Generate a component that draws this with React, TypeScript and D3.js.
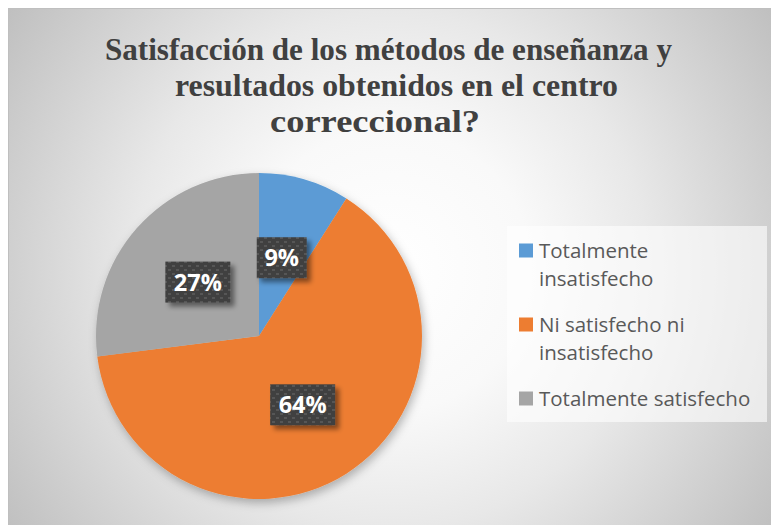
import React, { useEffect, useRef } from 'react';
import * as d3 from 'd3';

const categories = ['Totalmente insatisfecho', 'Ni satisfecho ni insatisfecho', 'Totalmente satisfecho'];
const legendLines = [['Totalmente', 'insatisfecho'], ['Ni satisfecho ni', 'insatisfecho'], ['Totalmente satisfecho']];
const values = [9, 64, 27];
const colors = ['#5B9BD5', '#ED7D31', '#A5A5A5'];
const titleLines = ['Satisfacción de los métodos de enseñanza y', 'resultados obtenidos en el centro', 'correccional?'];

const App: React.FC = () => {
  const svgRef = useRef<SVGSVGElement | null>(null);

  useEffect(() => {
    const width = 771;
    const height = 525;
    const cx = 259;
    const cy = 336;
    const radius = 163;

    const svg = d3.select(svgRef.current)
      .attr('width', width)
      .attr('height', height);

    svg.selectAll('*').remove();

    const defs = svg.append('defs');

    const grad = defs.append('radialGradient')
      .attr('id', 'bg')
      .attr('gradientUnits', 'userSpaceOnUse')
      .attr('cx', 390).attr('cy', 270).attr('r', 470);
    grad.append('stop').attr('offset', 0).attr('stop-color', '#ffffff');
    grad.append('stop').attr('offset', 0.3).attr('stop-color', '#f9f9f9');
    grad.append('stop').attr('offset', 0.55).attr('stop-color', '#e8e8e8');
    grad.append('stop').attr('offset', 1).attr('stop-color', '#bebebe');

    // dotted pattern for the data label boxes
    const pat = defs.append('pattern')
      .attr('id', 'dots')
      .attr('patternUnits', 'userSpaceOnUse')
      .attr('width', 8).attr('height', 8);
    pat.append('rect').attr('width', 8).attr('height', 8).attr('fill', '#3f3f3f');
    pat.append('rect').attr('x', 1).attr('y', 1).attr('width', 3).attr('height', 2).attr('fill', '#565656');
    pat.append('rect').attr('x', 5).attr('y', 5).attr('width', 3).attr('height', 2).attr('fill', '#565656');

    const pieShadow = defs.append('filter').attr('id', 'pieShadow')
      .attr('x', '-20%').attr('y', '-20%').attr('width', '140%').attr('height', '140%');
    pieShadow.append('feDropShadow')
      .attr('dx', 2).attr('dy', 4).attr('stdDeviation', 5)
      .attr('flood-color', '#000').attr('flood-opacity', 0.28);

    const boxShadow = defs.append('filter').attr('id', 'boxShadow')
      .attr('x', '-30%').attr('y', '-30%').attr('width', '160%').attr('height', '160%');
    boxShadow.append('feDropShadow')
      .attr('dx', 4).attr('dy', 4).attr('stdDeviation', 2.5)
      .attr('flood-color', '#000').attr('flood-opacity', 0.45);

    // chart area
    svg.append('rect')
      .attr('x', 8.5).attr('y', 8.5)
      .attr('width', 800).attr('height', 560)
      .attr('fill', 'url(#bg)')
      .attr('stroke', '#bfbfbf');

    // title
    const titleX = [388.5, 396.5, 375];
    const titleW = [567, 443, 210];
    const titleY = [60, 96, 132];
    titleLines.forEach((t, i) => {
      svg.append('text')
        .attr('x', titleX[i]).attr('y', titleY[i])
        .attr('text-anchor', 'middle')
        .attr('font-family', '"Liberation Serif", "Times New Roman", serif')
        .attr('font-weight', 'bold')
        .attr('font-size', 32)
        .attr('fill', '#404040')
        .attr('textLength', titleW[i])
        .attr('lengthAdjust', 'spacingAndGlyphs')
        .text(t);
    });

    // pie
    const pie = d3.pie<number>().sort(null).value(d => d);
    const arcs = pie(values);
    const arc = d3.arc<d3.PieArcDatum<number>>().innerRadius(0).outerRadius(radius);

    const g = svg.append('g').attr('transform', `translate(${cx},${cy})`);
    g.append('g').attr('filter', 'url(#pieShadow)')
      .selectAll('path')
      .data(arcs)
      .join('path')
      .attr('d', arc)
      .attr('fill', (d, i) => colors[i]);

    // data labels
    const total = d3.sum(values);
    arcs.forEach((d, i) => {
      const [lx, ly] = arc.centroid(d);
      const w = values[i] < 10 ? 50 : 65;
      const h = 41;
      g.append('rect')
        .attr('x', lx - w / 2).attr('y', ly - h / 2)
        .attr('width', w).attr('height', h)
        .attr('fill', 'url(#dots)')
        .attr('filter', 'url(#boxShadow)');
      g.append('text')
        .attr('x', lx).attr('y', ly + 8.5)
        .attr('text-anchor', 'middle')
        .attr('font-family', '"Open Sans", "Noto Sans", sans-serif')
        .attr('font-weight', 'bold')
        .attr('font-size', 23.5)
        .attr('fill', '#ffffff')
        .text(`${Math.round((values[i] / total) * 100)}%`);
    });

    // legend
    svg.append('rect')
      .attr('x', 507).attr('y', 226)
      .attr('width', 260).attr('height', 196)
      .attr('fill', '#ffffff').attr('fill-opacity', 0.6);

    let baseline = 258;
    categories.forEach((c, i) => {
      svg.append('rect')
        .attr('x', 519).attr('y', baseline - 14.5)
        .attr('width', 14).attr('height', 14)
        .attr('fill', colors[i]);
      legendLines[i].forEach((line, j) => {
        svg.append('text')
          .attr('x', 539).attr('y', baseline + j * 28)
          .attr('font-family', '"Open Sans", "Noto Sans", sans-serif')
          .attr('font-size', 20.5)
          .attr('fill', '#595959')
          .text(line);
      });
      baseline += legendLines[i].length * 28 + 18;
    });
  }, []);

  return (
    <svg ref={svgRef} style={{ position: 'absolute', left: 0, top: 0 }}></svg>
  );
};

export default App;
